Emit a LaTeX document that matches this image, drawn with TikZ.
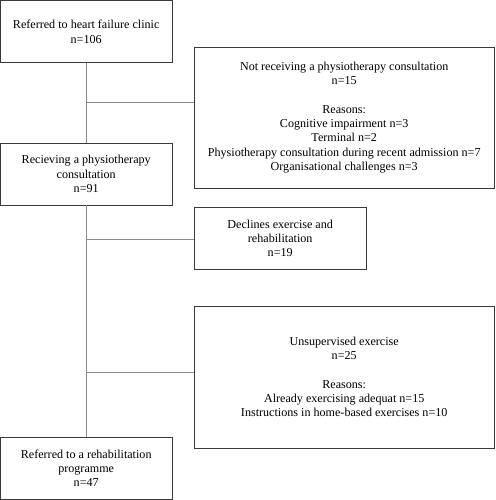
\documentclass[tikz,border=0pt]{standalone}
\usepackage{fontspec}
\setmainfont{Liberation Serif}
\begin{document}
\begin{tikzpicture}[x=1pt,y=-1pt,
  box/.style={draw=boxc, line width=0.9pt, align=center, inner sep=0pt, font=\fontsize{12.1}{14.3}\selectfont},
  conn/.style={draw=connc, line width=0.7pt}]
\definecolor{boxc}{HTML}{3A3A3A}
\definecolor{connc}{HTML}{8A8A8A}
\useasboundingbox (0,0) rectangle (495,500);
\node[box, minimum width=171.5pt, minimum height=62.5pt] (ref) at (86.2,31.7) {Referred to heart failure clinic\\n=106};
\node[box, minimum width=299.5pt, minimum height=141pt] (notrec) at (344.2,117.5) {Not receiving a physiotherapy consultation\\n=15\\[14.3pt]Reasons:\\Cognitive impairment n=3\\Terminal n=2\\Physiotherapy consultation during recent admission n=7\\Organisational challenges n=3};
\node[box, minimum width=171.5pt, minimum height=62pt] (rec) at (86.2,174) {Recieving a physiotherapy\\consultation\\n=91};
\node[box, minimum width=171.5pt, minimum height=62.5pt] (decl) at (280.2,238.5) {Declines exercise and\\rehabilitation\\n=19};
\node[box, minimum width=299.5pt, minimum height=142pt] (unsup) at (344.2,377) {Unsupervised exercise\\n=25\\[14.3pt]Reasons:\\Already exercising adequat n=15\\Instructions in home-based exercises n=10};
\node[box, minimum width=171.5pt, minimum height=62.5pt] (rehab) at (86.2,468.3) {Referred to a rehabilitation\\programme\\n=47};
\coordinate (j1) at (86.7,102);
\coordinate (j2) at (86.7,239);
\coordinate (j3) at (86.7,372.5);
\draw[conn] (ref.south -| j1) -- (rec.north -| j1);
\draw[conn] (rec.south -| j1) -- (rehab.north -| j1);
\draw[conn] (j1) -- (j1 -| notrec.west);
\draw[conn] (j2) -- (j2 -| decl.west);
\draw[conn] (j3) -- (j3 -| unsup.west);
\end{tikzpicture}
\end{document}
